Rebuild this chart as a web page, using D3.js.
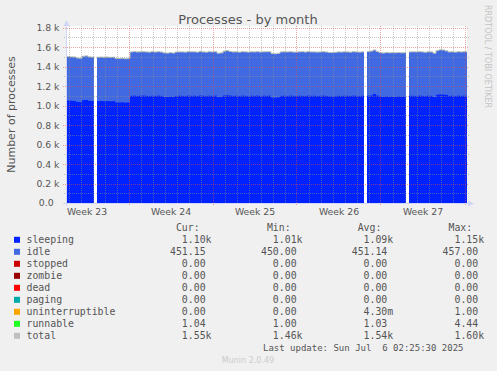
<!DOCTYPE html>
<html lang="en">
<head>
<meta charset="UTF-8">
<title>Processes - by month</title>
<script src="https://d3js.org/d3.v7.min.js"></script>
<style>
  body { margin: 0; background: #f0f0f0; }
  svg { display: block; }
  text { fill: #555; }
</style>
</head>
<body>
<script>
// time window of the graph and sample step (6h buckets)
const start = new Date("2025-06-02T21:00:00Z");
const end = new Date("2025-07-06T05:00:00Z");
const stepHours = 6;

const sleeping = [
  1052, 1050, 1048, 1038, 1036, 1056, 1058, 1049, 1047, null,
  1046, 1048, 1045, 1047, 1044, 1046, 1034, 1032, 1035, 1031, 1033,
  1100, 1102, 1099, 1101, 1103, 1100, 1098, 1101, 1099, 1102, 1100,
  1090, 1088, 1091, 1089,
  1099, 1101, 1100, 1098, 1102, 1100, 1101, 1099, 1103, 1100, 1098, 1101, 1100, 1102,
  1088, 1090, 1104, 1106, 1103,
  1100, 1101, 1099, 1102, 1100, 1098, 1101, 1100, 1103, 1099, 1101, 1100, 1102,
  1084, 1082, 1085,
  1100, 1101, 1099, 1102, 1100, 1098, 1101, 1100, 1099, 1102, 1100, 1101, 1098, 1100, 1102, 1099,
  1095, 1094, 1096,
  1100, 1098, 1101, 1100, 1099, 1102, 1100, 1098, 1100, null,
  1102, 1104, 1120, 1103,
  1092, 1090, 1093, 1091, 1092, 1090, 1093, 1091, 1092, null,
  1100, 1101, 1099, 1102, 1100, 1098, 1101, 1100,
  1088, 1112, 1116, 1114, 1110,
  1100, 1101, 1099, 1102, 1100, 1101, 1100
];
const idle = [
  451, 450, 451, 451, 450, 451, 452, 451, 451, null,
  451, 450, 451, 451, 452, 451, 450, 451, 451, 450, 451,
  451, 452, 451, 451, 450, 451, 451, 453, 451, 451, 450,
  451, 451, 452, 451,
  451, 450, 451, 451, 451, 452, 451, 450, 451, 451, 451, 452, 451, 451,
  450, 451, 455, 457, 453,
  451, 451, 450, 451, 452, 451, 451, 451, 450, 451, 451, 452, 451,
  451, 450, 451,
  451, 451, 452, 451, 450, 451, 451, 451, 451, 452, 451, 450, 451, 451, 451, 451,
  451, 450, 451,
  451, 452, 451, 451, 450, 451, 451, 451, 451, null,
  453, 455, 451, 452,
  451, 450, 451, 451, 451, 452, 451, 451, 450, null,
  451, 451, 452, 451, 451, 450, 451, 451,
  450, 453, 455, 457, 452,
  451, 451, 450, 451, 451, 452, 451
];
const runnable = [
  1, 1, 1, 1, 1, 1, 1, 1, 1, null,
  1, 1, 1, 1, 1, 1, 1, 1, 1, 1, 1,
  1, 1, 2, 1, 1, 1, 1, 1, 1, 1, 1,
  1, 1, 1, 1,
  1, 1, 1, 1, 1, 1, 1, 1, 4, 1, 1, 1, 1, 1,
  1, 1, 1, 2, 1,
  1, 1, 1, 1, 1, 1, 1, 1, 1, 1, 1, 1, 1,
  1, 1, 1,
  1, 1, 1, 1, 1, 1, 1, 3, 1, 1, 1, 1, 1, 1, 1, 1,
  1, 1, 1,
  1, 1, 1, 1, 1, 1, 1, 1, 1, null,
  1, 2, 1, 1,
  1, 1, 1, 1, 1, 1, 1, 1, 1, null,
  1, 1, 1, 1, 1, 1, 1, 1,
  1, 1, 3, 1, 1,
  1, 1, 1, 1, 1, 1, 1
];
const total = [
  1504, 1501, 1500, 1490, 1487, 1508, 1511, 1501, 1499, null,
  1498, 1499, 1497, 1499, 1497, 1498, 1485, 1484, 1487, 1482, 1485,
  1552, 1555, 1552, 1553, 1554, 1552, 1550, 1555, 1551, 1554, 1551,
  1542, 1540, 1544, 1541,
  1551, 1552, 1552, 1550, 1554, 1553, 1553, 1550, 1558, 1552, 1550, 1554, 1552, 1554,
  1539, 1542, 1560, 1565, 1557,
  1552, 1553, 1550, 1554, 1553, 1550, 1553, 1552, 1554, 1551, 1553, 1553, 1554,
  1536, 1533, 1537,
  1552, 1553, 1552, 1554, 1551, 1550, 1553, 1554, 1551, 1555, 1552, 1552, 1550, 1552, 1554, 1551,
  1547, 1545, 1548,
  1552, 1551, 1553, 1552, 1550, 1554, 1552, 1550, 1552, null,
  1556, 1561, 1572, 1556,
  1544, 1541, 1545, 1543, 1544, 1543, 1545, 1543, 1543, null,
  1552, 1553, 1552, 1554, 1552, 1549, 1553, 1552,
  1539, 1566, 1574, 1572, 1563,
  1552, 1553, 1550, 1554, 1552, 1554, 1552
];

const weekMids = ["2025-06-04T12:00:00Z", "2025-06-11T12:00:00Z", "2025-06-18T12:00:00Z",
                  "2025-06-25T12:00:00Z", "2025-07-02T12:00:00Z"];
const weekLabels = ["Week 23", "Week 24", "Week 25", "Week 26", "Week 27"];
const yTicks = [0, 200, 400, 600, 800, 1000, 1200, 1400, 1600, 1800];
const yTickLabels = ["0.0", "0.2 k", "0.4 k", "0.6 k", "0.8 k", "1.0 k", "1.2 k", "1.4 k", "1.6 k", "1.8 k"];

const legendNames = ["sleeping", "idle", "stopped", "zombie", "dead", "paging", "uninterruptible", "runnable", "total"];
const legendColors = ["#0022ff", "#4169e1", "#cc0000", "#990000", "#ff0000", "#00aaaa", "#ffa500", "#22ff22", "#c0c0c0"];
const curVals = ["1.10k", "451.15", "0.00", "0.00", "0.00", "0.00", "0.00", "1.04", "1.55k"];
const minVals = ["1.01k", "450.00", "0.00", "0.00", "0.00", "0.00", "0.00", "1.00", "1.46k"];
const avgVals = ["1.09k", "451.14", "0.00", "0.00", "0.00", "0.00", "4.30m", "1.03", "1.54k"];
const maxVals = ["1.15k", "457.00", "0.00", "0.00", "0.00", "0.00", "1.00", "4.44", "1.60k"];

const W = 497, H = 371;
const pLeft = 67, pRight = 467, pTop = 26, pBottom = 203;
const axisColor = "#cfd6f8";
const gridColor = "rgba(143,143,143,0.5)";
const mgridColor = "rgba(222,79,79,0.5)";

const x = d3.scaleUtc().domain([start, end]).range([pLeft, pRight]);
const y = d3.scaleLinear().domain([0, 1818]).range([pBottom, pTop]);

const svg = d3.select("body").append("svg")
  .attr("width", W).attr("height", H);

svg.append("rect").attr("width", W).attr("height", H).attr("fill", "#f0f0f0");
svg.append("rect").attr("x", pLeft).attr("y", pTop)
  .attr("width", pRight - pLeft).attr("height", pBottom - pTop).attr("fill", "#fff");

svg.append("defs").append("clipPath").attr("id", "clip")
  .append("rect").attr("x", pLeft).attr("y", pTop)
  .attr("width", pRight - pLeft).attr("height", pBottom - pTop);

// samples
const times = sleeping.map((_, i) => d3.utcHour.offset(start, i * stepHours));
const rows = times.map((t, i) => ({
  t, next: d3.utcHour.offset(t, stepHours),
  sleeping: sleeping[i], idle: idle[i], runnable: runnable[i], total: total[i]
}));

const keys = ["sleeping", "idle", "runnable"];
const colorOf = { sleeping: "#0022ff", idle: "#4169e1", runnable: "#22ff22" };
const stacked = d3.stack().keys(keys).value((d, k) => d[k] == null ? 0 : d[k])(rows);

const plot = svg.append("g").attr("clip-path", "url(#clip)");

// paint top layer first, each down to zero, so stacked edges don't leave seams
stacked.slice().reverse().forEach(s => {
  plot.append("g").attr("fill", colorOf[s.key])
    .selectAll("rect")
    .data(s.filter(d => d.data[s.key] != null))
    .enter().append("rect")
    .attr("x", d => x(d.data.t))
    .attr("width", d => x(d.data.next) - x(d.data.t))
    .attr("y", d => y(d[1]))
    .attr("height", d => y(0) - y(d[1]));
});

// total as a stepped line
const totalPts = rows.flatMap(d => [{ t: d.t, v: d.total }, { t: d.next, v: d.total }]);
plot.append("path")
  .datum(totalPts)
  .attr("fill", "none")
  .attr("stroke", "#c0c0c0")
  .attr("stroke-width", 1)
  .attr("d", d3.line().defined(d => d.v != null)
    .x(d => x(d.t)).y(d => y(d.v)));

// grid (drawn over the data like rrdtool)
const grid = svg.append("g").attr("stroke-width", 1).attr("stroke-dasharray", "1,1").attr("fill", "none");
const snap = v => Math.round(v) + 0.5;

const sundays = d3.utcSunday.range(start, end);
const days = d3.utcDay.range(start, end).filter(d => d.getUTCDay() !== 0);

grid.selectAll(".vmin").data(days).enter().append("line")
  .attr("x1", d => snap(x(d))).attr("x2", d => snap(x(d)))
  .attr("y1", pTop).attr("y2", pBottom)
  .attr("stroke", gridColor);

const minorY = d3.range(100, 1801, 100).filter(v => v % 200 !== 0);
grid.selectAll(".hmin").data(minorY).enter().append("line")
  .attr("x1", pLeft - 3).attr("x2", pRight + 2)
  .attr("y1", d => snap(y(d))).attr("y2", d => snap(y(d)))
  .attr("stroke", gridColor);

grid.selectAll(".vmaj").data(sundays).enter().append("line")
  .attr("x1", d => snap(x(d))).attr("x2", d => snap(x(d)))
  .attr("y1", pTop).attr("y2", pBottom + 3)
  .attr("stroke", mgridColor);

grid.selectAll(".hmaj").data(yTicks.filter(v => v > 0)).enter().append("line")
  .attr("x1", pLeft - 4).attr("x2", pRight + 2)
  .attr("y1", d => snap(y(d))).attr("y2", d => snap(y(d)))
  .attr("stroke", mgridColor);

// axis lines + arrows
svg.append("line").attr("x1", pLeft - 4).attr("x2", pRight + 2)
  .attr("y1", pBottom + 0.5).attr("y2", pBottom + 0.5).attr("stroke", axisColor);
svg.append("line").attr("x1", pLeft - 0.5).attr("x2", pLeft - 0.5)
  .attr("y1", pBottom + 3).attr("y2", pTop - 2).attr("stroke", axisColor);
svg.append("path").attr("fill", axisColor)
  .attr("d", `M${pRight + 1},${pBottom - 2.5}L${pRight + 7},${pBottom + 0.5}L${pRight + 1},${pBottom + 3.5}Z`);
svg.append("path").attr("fill", axisColor)
  .attr("d", `M${pLeft - 3.5},${pTop}L${pLeft - 0.5},${pTop - 6}L${pLeft + 2.5},${pTop}Z`);

// tick labels
const fontAxis = "'DejaVu Sans', sans-serif";
const yAxis = svg.append("g").attr("transform", `translate(${pLeft - 0.5},0)`)
  .call(d3.axisLeft(y).tickValues(yTicks).tickSize(0).tickPadding(7)
    .tickFormat((d, i) => yTickLabels[i].includes("k") ? yTickLabels[i] : yTickLabels[i] + "\u00a0\u00a0"));
yAxis.select(".domain").remove();
yAxis.selectAll("text").attr("font-family", fontAxis).attr("font-size", 9.3).attr("fill", "#555");

const xAxis = svg.append("g").attr("transform", `translate(0,${pBottom})`)
  .call(d3.axisBottom(x).tickValues(weekMids.map(d => new Date(d))).tickSize(0).tickPadding(5.6)
    .tickFormat((d, i) => weekLabels[i]));
xAxis.select(".domain").remove();
xAxis.selectAll("text").attr("font-family", fontAxis).attr("font-size", 9.3).attr("fill", "#555");

// titles
svg.append("text").attr("x", 248).attr("y", 24).attr("text-anchor", "middle")
  .attr("font-family", fontAxis).attr("font-size", 13).text("Processes - by month");

svg.append("text").attr("transform", "translate(15,114.5) rotate(-90)")
  .attr("text-anchor", "middle").attr("font-family", fontAxis).attr("font-size", 11)
  .text("Number of processes");

svg.append("text").attr("transform", "translate(485,5) rotate(90)")
  .attr("font-family", fontAxis).attr("font-size", 8).style("fill", "#c4c4c4")
  .text("RRDTOOL / TOBI OETIKER");

// legend
const mono = "'DejaVu Sans Mono', monospace";
const fs = 9.85;
const cw = 0.602 * fs;
const rowY = i => 239.8 + 12 * i;
const cols = [170, 261, 351.7, 442.6];
const headers = ["Cur:", "Min:", "Avg:", "Max:"];
const colVals = [curVals, minVals, avgVals, maxVals];

const legend = svg.append("g").attr("font-family", mono).attr("font-size", fs);

headers.forEach((h, c) => {
  legend.append("text").attr("x", cols[c] + cw).attr("y", rowY(-1) + 3.3).text(h);
});

legendNames.forEach((name, i) => {
  legend.append("rect").attr("x", 14).attr("y", rowY(i) - 3)
    .attr("width", 6).attr("height", 6).attr("fill", legendColors[i]);
  legend.append("text").attr("x", 26.5).attr("y", rowY(i) + 3.3).text(name);
  colVals.forEach((vals, c) => {
    const v = vals[i];
    const suffix = /[km]$/.test(v) ? cw : 0;
    legend.append("text").attr("x", cols[c] + 6 * cw + suffix).attr("y", rowY(i) + 3.3)
      .attr("text-anchor", "end").text(v);
  });
});

svg.append("text").attr("x", 463.5).attr("y", 350.7).attr("text-anchor", "end")
  .attr("font-family", mono).attr("font-size", 9)
  .style("white-space", "pre")
  .text("Last update: Sun Jul  6 02:25:30 2025");

svg.append("text").attr("x", 248).attr("y", 362.5).attr("text-anchor", "middle")
  .attr("font-family", fontAxis).attr("font-size", 8).style("fill", "#cccccc")
  .text("Munin 2.0.49");
</script>
</body>
</html>
